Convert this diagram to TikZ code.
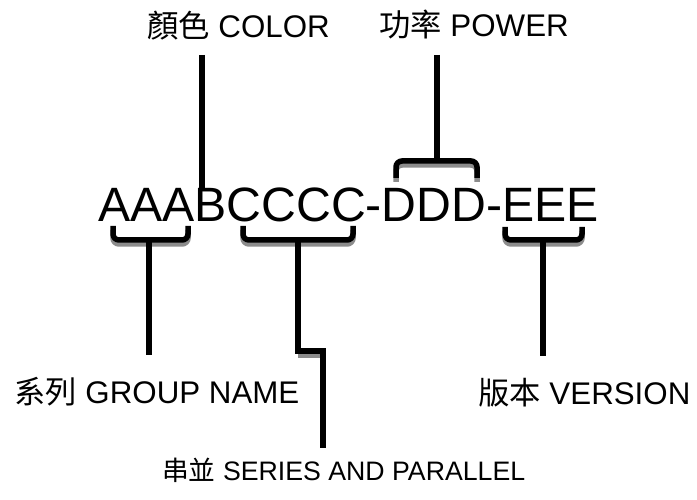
\documentclass[tikz,border=0pt]{standalone}
\usepackage{fontspec}
\setmainfont{Liberation Sans}
\newfontfamily\cjk{Noto Sans CJK TC}
\begin{document}
\begin{tikzpicture}[x=1pt,y=-1pt,
  lead/.style={line width=5.5pt, draw=black},
  brk/.style={line width=5.5pt, draw=black, rounded corners=6pt},
  shd/.style={line width=5.5pt, draw=black!45, rounded corners=6pt, yshift=-4pt},
  lbl/.style={inner sep=0pt, anchor=base west, font=\fontsize{31.3}{37}\selectfont},
  lbls/.style={inner sep=0pt, anchor=base west, font=\fontsize{26.7}{32}\selectfont}]
\useasboundingbox (0,0) rectangle (697,500);
\node[inner sep=0pt, anchor=base, font=\fontsize{48.2}{56}\selectfont] (code) at (348.5,222) {AAABCCCC-DDD-EEE};
\node[lbl] (color) at (147,38) {{\cjk 顏色} COLOR};
\node[lbl] (power) at (379,37) {{\cjk 功率} POWER};
\node[lbl] (group) at (14,403) {{\cjk 系列} GROUP NAME};
\node[lbl] (version) at (478,404) {{\cjk 版本} VERSION};
\node[lbls] (series) at (162,480) {{\cjk 串並} SERIES AND PARALLEL};
% colour leader
\coordinate (c1) at (202,55);
\coordinate (c2) at (202,190);
\draw[lead] (c1) -- (c2);
% power brace over DDD
\coordinate (p1) at (437,55);
\coordinate (p2) at (437,161);
\draw[shd] (396,178) -- (396,161) -- (477,161) -- (477,178);
\draw[brk] (396,178) -- (396,161) -- (477,161) -- (477,178);
\draw[lead] (p1) -- (p2);
% group brace under AAA
\coordinate (g1) at (149,240);
\coordinate (g2) at (149,355);
\draw[shd] (113,226) -- (113,240) -- (188,240) -- (188,226);
\draw[brk] (113,226) -- (113,240) -- (188,240) -- (188,226);
\draw[lead] (g1) -- (g2);
% series brace under CCCC
\coordinate (s1) at (298,240);
\coordinate (s2) at (323,448);
\draw[shd] (243,226) -- (243,240) -- (353,240) -- (353,226);
\draw[brk] (243,226) -- (243,240) -- (353,240) -- (353,226);
\draw[shd] (298,351) -- (323,351);
\draw[lead] (s1) -- (298,351) -- (323,351) -- (s2);
% version brace under EEE
\coordinate (v1) at (543,240);
\coordinate (v2) at (543,356);
\draw[shd] (505,227) -- (505,240) -- (582,240) -- (582,227);
\draw[brk] (505,227) -- (505,240) -- (582,240) -- (582,227);
\draw[lead] (v1) -- (v2);
\end{tikzpicture}
\end{document}
